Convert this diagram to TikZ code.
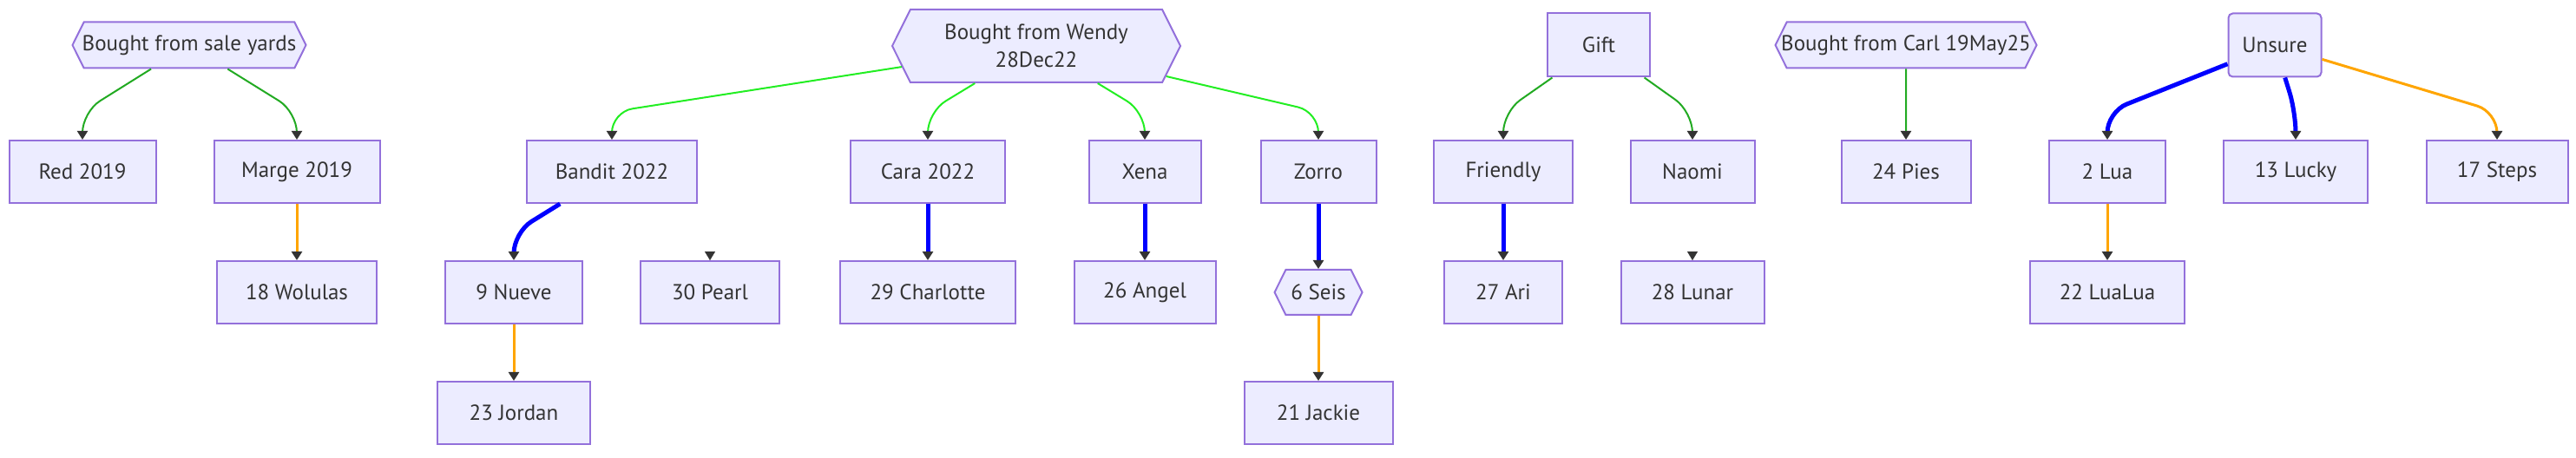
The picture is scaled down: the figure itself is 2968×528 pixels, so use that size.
\documentclass[tikz,border=0pt]{standalone}
\usepackage{fontspec}
\setmainfont{PT Sans}
\usetikzlibrary{arrows.meta,shapes.symbols}
\definecolor{boxfill}{HTML}{ECECFF}
\definecolor{boxline}{HTML}{9370DB}
\definecolor{textgray}{HTML}{333333}
\definecolor{buygreen}{HTML}{22AA22}
\definecolor{limegreen}{HTML}{22EE22}
\definecolor{kidblue}{HTML}{0000FF}
\definecolor{kidorange}{HTML}{FFA500}
\tikzstyle{animal}=[rectangle,draw=boxline,fill=boxfill,line width=1pt,minimum height=36pt,inner sep=0pt,text=textgray,font=\fontsize{12.5}{16}\selectfont]
\tikzstyle{seller}=[animal,signal,signal to=west and east,signal pointer angle=127,minimum height=26.5pt,inner xsep=-6pt]
\tikzstyle{link}=[draw,rounded corners=12pt,-{Triangle[length=5pt,width=6pt,color=textgray]}]
\tikzstyle{bought}=[link,draw=buygreen,line width=1pt]
\tikzstyle{wendyline}=[link,draw=limegreen,line width=1pt]
\tikzstyle{kidline}=[link,draw=kidblue,line width=2.5pt]
\tikzstyle{unsureline}=[link,draw=kidorange,line width=1.5pt]
\tikzstyle{tiponly}=[-{Triangle[length=5pt,width=6pt,color=textgray]},line width=0.1pt,draw=white]

\begin{document}
\begin{tikzpicture}[x=0.5pt,y=0.5pt]
    \useasboundingbox (0,0) rectangle (2968,-528);
    % where they came from
    \foreach \pos/\name/\boxw/\txt in {{(218,-52)/sale/269/Bought from sale yards},{(2196,-52)/carl/301/Bought from Carl 19May25}}
        \node[seller,minimum width=\boxw*0.5pt] (\name) at \pos {\txt};
    \node[seller,minimum width=166pt,minimum height=42pt,align=center] (wendy) at (1194,-53) {Bought from Wendy\\28Dec22};
    \node[animal,minimum width=59pt,minimum height=36.5pt] (gift) at (1842,-52) {Gift};
    \node[animal,rounded corners=2.5pt,minimum width=53.5pt,minimum height=36.5pt] (unsure) at (2621,-52) {Unsure};

    % first row
    \foreach \pos/\name/\boxw/\txt in {{(95,-198)/red/169/Red 2019},{(342,-198)/marge/191/Marge 2019},
        {(705,-198)/bandit/196/Bandit 2022},{(1069,-198)/cara/178/Cara 2022},{(1319,-198)/xena/129/Xena},
        {(1519,-198)/zorro/133/Zorro},{(1732,-198)/friendly/160/Friendly},{(1950,-198)/naomi/143/Naomi},
        {(2196,-198)/pies/149/24 Pies},{(2428,-198)/lua/134/2 Lua},{(2645,-198)/lucky/166/13 Lucky},
        {(2877,-198)/steps/163/17 Steps}}
        \node[animal,minimum width=\boxw*0.5pt] (\name) at \pos {\txt};

    % second and third row
    \foreach \pos/\name/\boxw/\txt in {{(342,-337)/wolulas/184/18 Wolulas},{(592,-337)/nueve/158/9 Nueve},
        {(818,-337)/pearl/160/30 Pearl},{(1069,-337)/charlotte/202/29 Charlotte},{(1319,-337)/angel/163/26 Angel},
        {(1732,-337)/ari/136/27 Ari},{(1950,-337)/lunar/165/28 Lunar},{(2428,-337)/lualua/178/22 LuaLua},
        {(592,-476)/jordan/176/23 Jordan},{(1519,-476)/jackie/171/21 Jackie}}
        \node[animal,minimum width=\boxw*0.5pt] (\name) at \pos {\txt};
    \node[seller,minimum width=50.5pt,minimum height=26pt] (seis) at (1519,-337) {6 Seis};

    % connect them
    \foreach \source/ \dest/\kind in {sale/red/bought, sale/marge/bought, marge/wolulas/unsureline,
        wendy/bandit/wendyline, wendy/cara/wendyline, wendy/xena/wendyline, wendy/zorro/wendyline,
        bandit/nueve/kidline, nueve/jordan/unsureline, cara/charlotte/kidline, xena/angel/kidline,
        zorro/seis/kidline, seis/jackie/unsureline, gift/friendly/bought, gift/naomi/bought,
        friendly/ari/kidline, carl/pies/bought, unsure/lua/kidline, unsure/lucky/kidline,
        unsure/steps/unsureline, lua/lualua/unsureline}
        \path[\kind] (\source) -- ([yshift=16pt]\dest.north) -- (\dest.north);

    % arrowheads with no line
    \foreach \dest in {pearl,lunar} {
        \coordinate (\dest top) at ([yshift=5pt]\dest.north);
        \draw[tiponly] (\dest top) -- (\dest.north);
    }
\end{tikzpicture}
\end{document}
